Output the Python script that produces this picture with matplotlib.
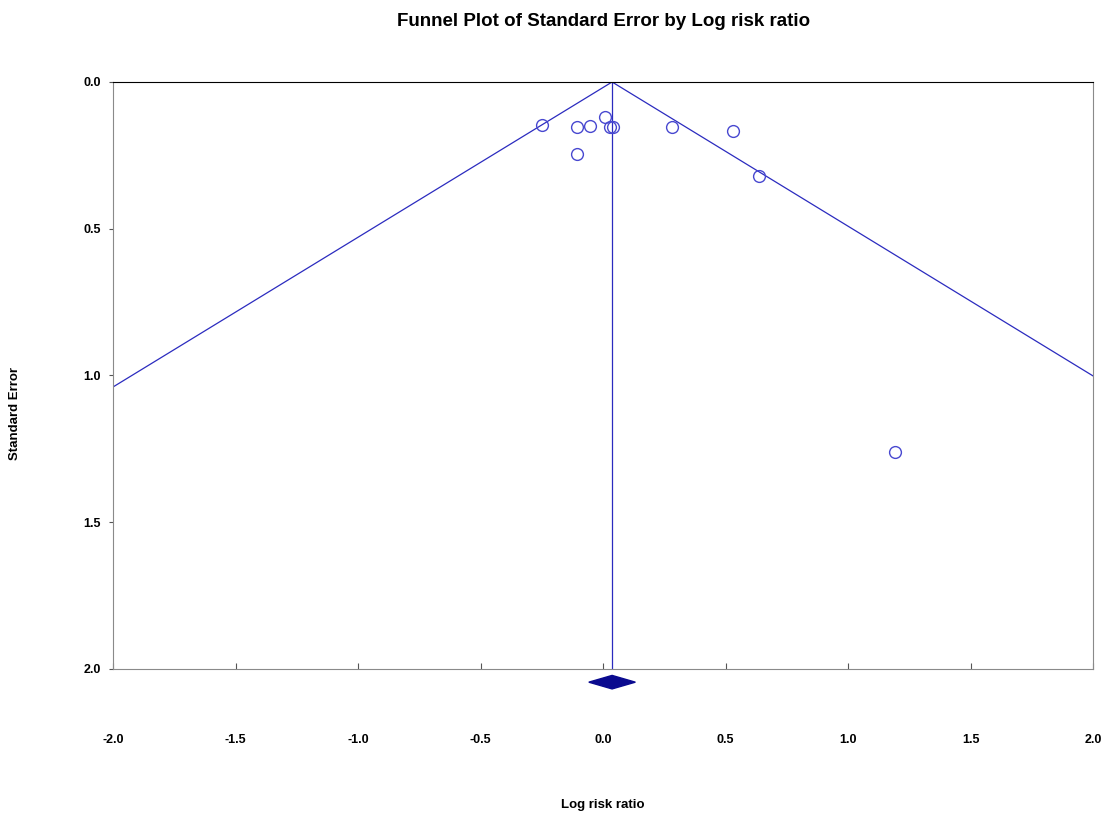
import matplotlib.pyplot as plt
import numpy as np
from matplotlib.patches import Polygon

# study estimates
log_rr = [-0.25, -0.107, -0.053, 0.008, 0.030, 0.042, -0.107, 0.283, 0.529, 0.638, 1.192]
std_err = [0.147, 0.154, 0.150, 0.118, 0.152, 0.152, 0.246, 0.154, 0.167, 0.320, 1.261]

pooled = 0.037
pooled_halfwidth = 0.095
x_ticks = [-2.0, -1.5, -1.0, -0.5, 0.0, 0.5, 1.0, 1.5, 2.0]
y_ticks = [0.0, 0.5, 1.0, 1.5, 2.0]

plt.rcParams['font.family'] = ['Liberation Sans Narrow', 'Liberation Sans', 'DejaVu Sans']
plt.rcParams['font.weight'] = 'bold'

fig = plt.figure(figsize=(11.09, 8.19), dpi=100)
ax = fig.add_axes([0.1019, 0.1832, 0.8837, 0.7167])

line_col = '#2b2bbf'
se = np.array([0.0, 2.0])
ax.plot(pooled - 1.96 * se, se, color=line_col, lw=0.9)
ax.plot(pooled + 1.96 * se, se, color=line_col, lw=0.9)
ax.plot([pooled, pooled], [0, 2], color=line_col, lw=0.9)

ax.plot(log_rr, std_err, 'o', mfc='none', mec='#4848d0', ms=8.5, mew=1.0)

diamond = Polygon([[pooled - pooled_halfwidth, 2.045], [pooled, 2.022],
                   [pooled + pooled_halfwidth, 2.045], [pooled, 2.068]],
                  closed=True, color='#0a0a8f', clip_on=False)
ax.add_patch(diamond)

ax.set_xlim(-2, 2)
ax.set_ylim(2, 0)
ax.set_xticks(x_ticks)
ax.set_yticks(y_ticks)
ax.set_xticklabels([f'{v:.1f}' for v in x_ticks], fontsize=9, fontweight='bold')
ax.set_yticklabels([f'{v:.1f}' for v in y_ticks], fontsize=9, fontweight='bold')
ax.tick_params(axis='x', direction='in', length=4, pad=47, color='#555555')
ax.tick_params(axis='y', direction='out', length=3, pad=6, color='#555555')

for side in ['left', 'bottom', 'right']:
    ax.spines[side].set_color('#8a8a8a')
ax.spines['top'].set_color('black')

fig.text(0.5438, 0.974, 'Funnel Plot of Standard Error by Log risk ratio',
         ha='center', va='center', fontsize=13.5, fontweight='bold')
fig.text(0.0135, 0.495, 'Standard Error', rotation=90, ha='center', va='center',
         fontsize=9.5, fontweight='bold')
fig.text(0.5438, 0.017, 'Log risk ratio', ha='center', va='center',
         fontsize=9.5, fontweight='bold')

fig.savefig('out.png', dpi=100)
